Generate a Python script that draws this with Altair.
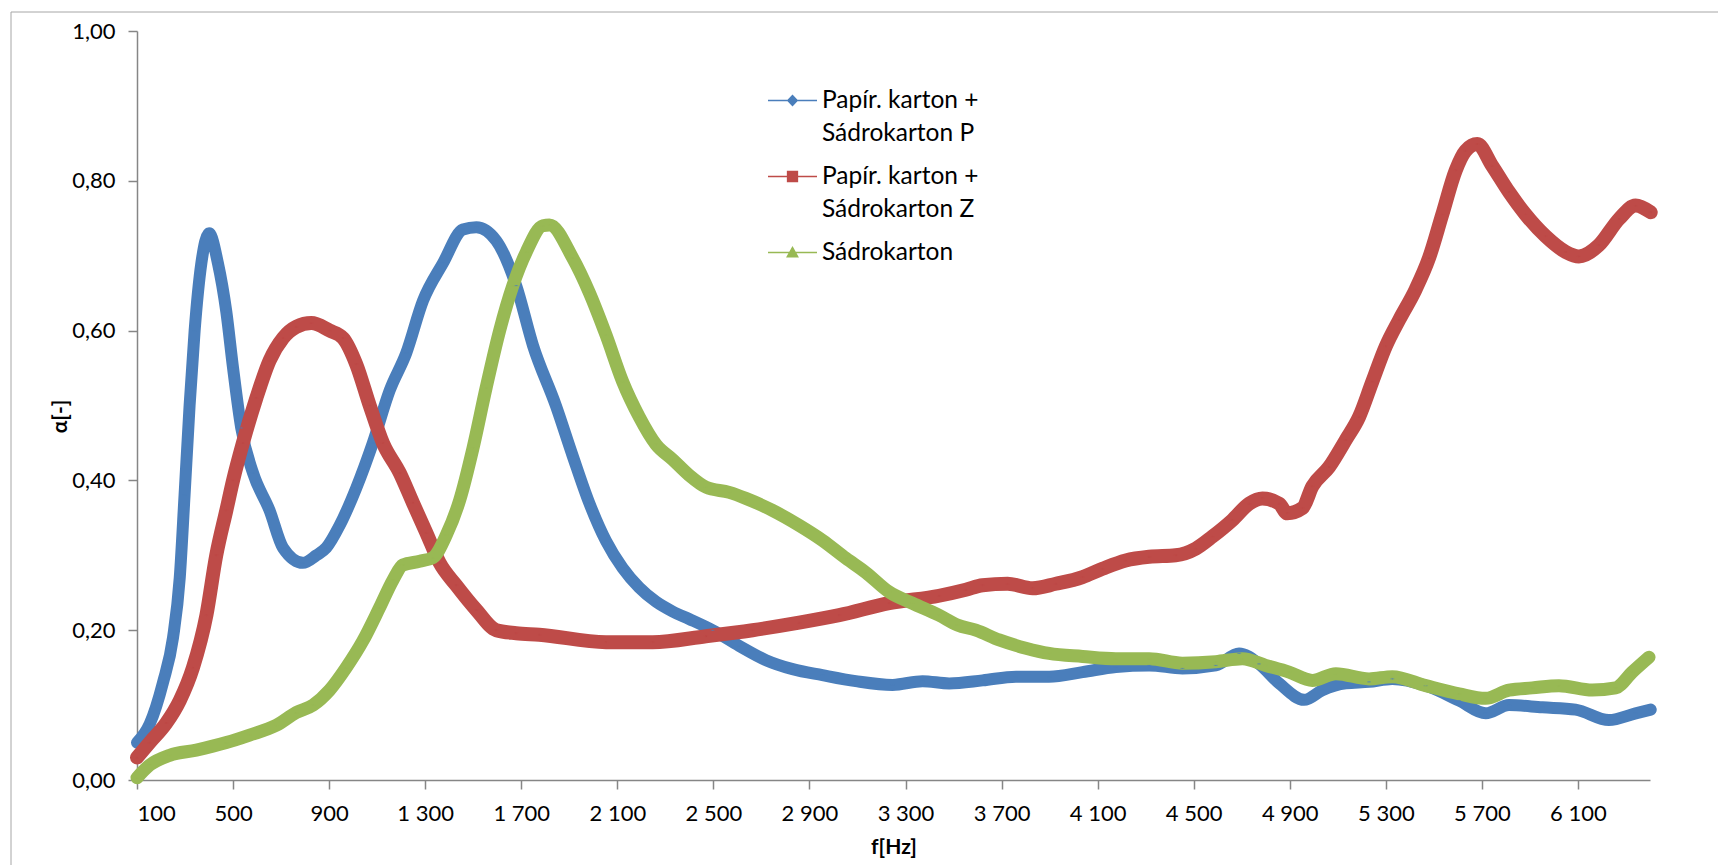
import altair as alt
import pandas as pd

series_names = ["Papír. karton + Sádrokarton P", "Papír. karton + Sádrokarton Z", "Sádrokarton"]
colors = ["#4A7EBB", "#BE4B48", "#98B954"]
line_widths = [12, 14, 13]
legend_paths = [
    "M-1,0H1M-0.19,0L0,-0.2L0.19,0L0,0.2Z",
    "M-1,0H1M-0.2,-0.2H0.2V0.2H-0.2Z",
    "M-1,0H1M-0.21,0.17L0,-0.2L0.21,0.17Z",
]

x_ticks = [100, 500, 900, 1300, 1700, 2100, 2500, 2900, 3300, 3700, 4100, 4500, 4900, 5300, 5700, 6100]
y_ticks = [0.0, 0.2, 0.4, 0.6, 0.8, 1.0]

f_p = [100, 153, 208, 250, 278, 298, 319, 340, 368, 400, 437, 472, 500, 534, 583, 652, 708, 791, 847, 888,
       944, 1013, 1082, 1152, 1221, 1291, 1374, 1457, 1513, 1596, 1679, 1749, 1844, 1914, 1983, 2053, 2122,
       2191, 2261, 2330, 2399, 2497, 2608, 2719, 2830, 2954, 3093, 3246, 3371, 3482, 3621, 3760, 3898, 4037,
       4176, 4315, 4453, 4592, 4689, 4772, 4856, 4960, 5036, 5133, 5230, 5327, 5466, 5605, 5716, 5813, 5952,
       6090, 6229, 6340, 6403]
a_p = [0.05, 0.075, 0.13, 0.19, 0.27, 0.38, 0.50, 0.60, 0.69, 0.73, 0.69, 0.625, 0.55, 0.47, 0.41, 0.36, 0.31,
       0.29, 0.30, 0.31, 0.34, 0.39, 0.45, 0.52, 0.57, 0.64, 0.69, 0.735, 0.738, 0.72, 0.66, 0.58, 0.50, 0.433,
       0.37, 0.319, 0.283, 0.257, 0.238, 0.225, 0.215, 0.200, 0.179, 0.16, 0.148, 0.14, 0.132, 0.127, 0.132,
       0.129, 0.133, 0.138, 0.138, 0.144, 0.151, 0.153, 0.149, 0.153, 0.169, 0.155, 0.129, 0.107, 0.12, 0.129,
       0.131, 0.135, 0.126, 0.106, 0.089, 0.1, 0.097, 0.094, 0.08, 0.089, 0.094]

f_z = [100, 153, 222, 278, 333, 389, 430, 472, 500, 541, 597, 652, 708, 763, 826, 902, 958, 1013, 1069, 1124,
       1194, 1249, 1305, 1360, 1429, 1513, 1596, 1679, 1775, 2053, 2247, 2469, 2663, 2857, 3024, 3232, 3440,
       3551, 3621, 3725, 3829, 3926, 4037, 4120, 4217, 4315, 4425, 4509, 4578, 4661, 4731, 4786, 4856, 4890,
       4953, 4994, 5064, 5133, 5189, 5244, 5300, 5355, 5424, 5480, 5535, 5591, 5632, 5681, 5743, 5813, 5882,
       5965, 6049, 6104, 6187, 6271, 6340, 6403]
a_z = [0.03, 0.05, 0.076, 0.106, 0.15, 0.22, 0.30, 0.36, 0.40, 0.45, 0.51, 0.56, 0.59, 0.605, 0.61, 0.60, 0.59,
       0.555, 0.50, 0.45, 0.41, 0.37, 0.33, 0.29, 0.26, 0.227, 0.20, 0.196, 0.194, 0.184, 0.184, 0.192, 0.200,
       0.210, 0.220, 0.236, 0.246, 0.254, 0.26, 0.262, 0.256, 0.262, 0.271, 0.282, 0.293, 0.298, 0.300, 0.309,
       0.325, 0.347, 0.369, 0.376, 0.369, 0.356, 0.363, 0.392, 0.418, 0.454, 0.485, 0.532, 0.579, 0.614, 0.655,
       0.697, 0.755, 0.814, 0.84, 0.849, 0.82, 0.785, 0.755, 0.726, 0.705, 0.699, 0.714, 0.749, 0.767, 0.758]

f_s = [100, 153, 236, 347, 472, 569, 680, 763, 833, 902, 971, 1041, 1110, 1166, 1207, 1277, 1332, 1388, 1443,
       1499, 1554, 1610, 1665, 1721, 1790, 1817, 1914, 1983, 2053, 2122, 2191, 2261, 2330, 2399, 2469, 2566,
       2635, 2746, 2857, 2954, 3052, 3135, 3232, 3329, 3440, 3516, 3593, 3690, 3801, 3898, 4037, 4176, 4315,
       4453, 4592, 4703, 4800, 4897, 4994, 5092, 5230, 5327, 5466, 5605, 5716, 5813, 5910, 6021, 6160, 6257,
       6326, 6396]
a_s = [0.003, 0.02, 0.033, 0.04, 0.05, 0.06, 0.073, 0.09, 0.10, 0.12, 0.15, 0.186, 0.23, 0.267, 0.287, 0.292,
       0.297, 0.327, 0.373, 0.443, 0.524, 0.60, 0.66, 0.705, 0.74, 0.741, 0.697, 0.651, 0.594, 0.532, 0.485,
       0.448, 0.428, 0.407, 0.391, 0.384, 0.376, 0.36, 0.34, 0.32, 0.296, 0.277, 0.251, 0.236, 0.220, 0.207,
       0.2, 0.187, 0.176, 0.169, 0.165, 0.162, 0.162, 0.156, 0.158, 0.162, 0.153, 0.144, 0.133, 0.142, 0.135,
       0.138, 0.126, 0.115, 0.109, 0.12, 0.123, 0.126, 0.12, 0.123, 0.144, 0.164]

rows = []
for name, fs, als in zip(series_names, [f_p, f_z, f_s], [a_p, a_z, a_s]):
    for f, a in zip(fs, als):
        rows.append({"series": name, "f": f, "alpha": a})
df = pd.DataFrame(rows)

FONT = "Lato"
AX = "#868686"

x_enc = alt.X("f:Q", scale=alt.Scale(domain=[100, 6400], nice=False, zero=False),
              axis=alt.Axis(values=x_ticks, title="f[Hz]",
                            labelExpr="replace(format(datum.value, ','), ',', ' ')",
                            labelFontSize=22, labelPadding=14, tickSize=9, grid=False,
                            titleFontSize=21, titleFontWeight="bold", titleY=67, titleBaseline="middle"))
y_enc = alt.Y("alpha:Q", scale=alt.Scale(domain=[0, 1], nice=False),
              axis=alt.Axis(values=y_ticks, title="α[-]",
                            labelExpr="replace(format(datum.value, '.2f'), '.', ',')",
                            labelFontSize=22, labelPadding=13, tickSize=9, grid=False,
                            titleFontSize=21, titleFontWeight="bold", titleX=-77, titleY=385,
                            titleAlign="center", titleBaseline="middle", titleAngle=-90))

line_layers = []
for i, (name, c, w) in enumerate(zip(series_names, colors, line_widths)):
    enc_x = x_enc if i == 0 else alt.X("f:Q")
    enc_y = y_enc if i == 0 else alt.Y("alpha:Q")
    line_layers.append(
        alt.Chart(df).transform_filter(alt.datum.series == name).mark_line(
            interpolate="monotone", strokeCap="round", strokeJoin="round", color=c, strokeWidth=w
        ).encode(x=enc_x, y=enc_y)
    )

leg = alt.Legend(title=None, orient="none", legendX=630, legendY=44, padding=0,
                 labelFont=FONT, labelFontSize=24.5, labelColor="black", labelLimit=500,
                 labelExpr="indexof(datum.label, '+') > 0 ? [substring(datum.label, 0, indexof(datum.label, '+') + 1), substring(datum.label, indexof(datum.label, '+') + 2)] : datum.label",
                 symbolSize=2401, symbolStrokeWidth=1.5, symbolOpacity=1, labelOffset=4, rowPadding=6)

markers = alt.Chart(df).mark_point(filled=True, size=16, strokeWidth=0.5, opacity=1).encode(
    x="f:Q", y="alpha:Q",
    fill=alt.Fill("series:N", scale=alt.Scale(domain=series_names, range=colors), legend=leg),
    stroke=alt.Stroke("series:N", scale=alt.Scale(domain=series_names, range=colors), legend=leg),
    shape=alt.Shape("series:N", scale=alt.Scale(domain=series_names, range=legend_paths), legend=leg),
)

frame_df = pd.DataFrame({"k": [0]})
frame_left = alt.Chart(frame_df).mark_rule(color="#A6A6A6", strokeWidth=1).encode(
    x=alt.value(-126), y=alt.value(-19), y2=alt.value(900))
frame_top = alt.Chart(frame_df).mark_rule(color="#A6A6A6", strokeWidth=1).encode(
    x=alt.value(-126), x2=alt.value(1700), y=alt.value(-19))

chart = alt.layer(frame_left, frame_top, *line_layers, markers).properties(
    width=1513, height=749,
    autosize=alt.AutoSizeParams(type="none"),
    padding={"left": 137, "top": 31, "right": 68, "bottom": 85},
    background="white",
).configure(
    style={"guide-label": {"lineHeight": 33}}
).configure_view(stroke=None).configure_axis(
    domainColor=AX, tickColor=AX, domainWidth=1.5, tickWidth=1.5,
    labelFont=FONT, titleFont=FONT, labelColor="black", titleColor="black",
)

chart.save("out.html", embed_options={"renderer": "svg", "actions": False})
